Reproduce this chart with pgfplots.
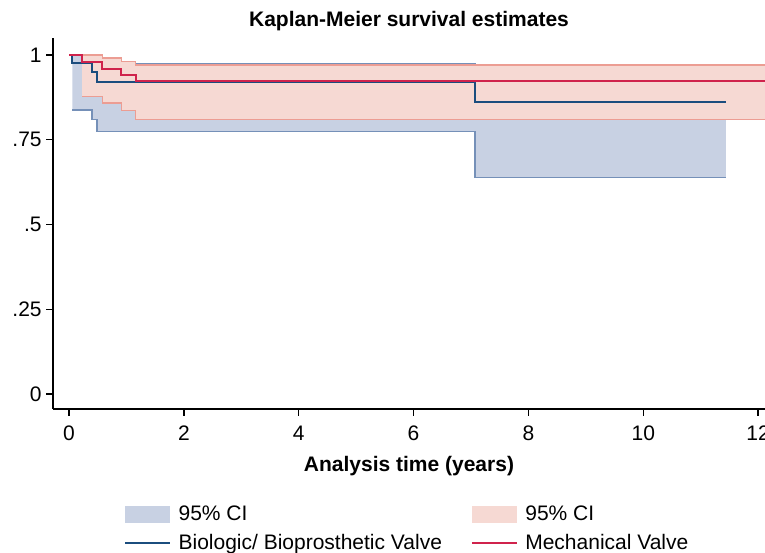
\documentclass[border=0pt]{standalone}
\usepackage{pgfplots}
\pgfplotsset{compat=1.18}
\usepackage{fontspec}
\setmainfont{Liberation Sans}
\definecolor{ciblue}{HTML}{C8D1E3}
\definecolor{ciblueedge}{HTML}{7590B8}
\definecolor{cipink}{HTML}{F6D9D3}
\definecolor{cipinkedge}{HTML}{EC9D93}
\definecolor{navyline}{HTML}{1B4D7E}
\definecolor{redline}{HTML}{D0234C}
\newcommand{\fs}{\fontsize{15.75}{18}\selectfont}
\begin{document}
\begin{tikzpicture}
\begin{axis}[
  scale only axis, width=534pt, height=278.25pt,
  xmin=-0.279, xmax=12.12, ymin=-0.044, ymax=1.05,
  axis lines=left,
  axis line style={line width=1.5pt, -},
  xtick={0,2,4,6,8,10,12},
  ytick={0,0.25,0.5,0.75,1},
  yticklabels={0,.25,.5,.75,1},
  tick align=outside, major tick length=5pt,
  tick style={line width=1pt, black},
  /pgf/number format/assume math mode=true,
  tick label style={font=\fs},
  xticklabel style={yshift=-4pt},
  title={Kaplan-Meier survival estimates},
  title style={at={(axis description cs:0.5,1)}, anchor=base, yshift=2.25pt, font=\bfseries\fs},
  xlabel={Analysis time (years)},
  xlabel style={at={(axis description cs:0.5,0)}, anchor=base, yshift=-47.25pt, font=\bfseries\fs},
  legend columns=2,
  legend style={at={(axis description cs:0.0997,0)}, anchor=north west, yshift=-72.5pt,
    draw=none, fill=none, inner xsep=0pt, inner ysep=0pt, font=\fs,
    row sep=8.6pt, cells={anchor=west},
    nodes={inner sep=0pt},
    /tikz/every odd column/.append style={column sep=5.5pt},
    /tikz/every even column/.append style={column sep=21.75pt}},
  legend image code/.code={\draw[#1] (0pt,0pt) -- (33.75pt,0pt);},
]
% blue CI band
\addplot[fill=ciblue, draw=none,
  legend image code/.code={\fill[ciblue] (0pt,-6.4pt) rectangle (33.75pt,6.4pt);}]
  coordinates {(0.06,1.0) (0.58,1.0) (0.58,0.991) (0.91,0.991) (0.91,0.981) (1.16,0.981)
    (1.16,0.974) (7.07,0.974) (7.07,0.955) (11.44,0.955)
    (11.44,0.639) (7.07,0.639) (7.07,0.774) (0.49,0.774) (0.49,0.810) (0.40,0.810)
    (0.40,0.838) (0.06,0.838)} -- cycle;
\addlegendentry{95\% CI}
\addplot[const plot, draw=ciblueedge, line width=1.1pt, forget plot]
  coordinates {(0.06,1.0) (0.58,0.991) (0.91,0.981) (1.16,0.974) (7.07,0.955) (11.44,0.955)};
\addplot[const plot, draw=ciblueedge, line width=1.1pt, forget plot]
  coordinates {(0.06,0.838) (0.40,0.810) (0.49,0.774) (7.07,0.639) (11.44,0.639)};
% red CI band
\addplot[fill=cipink, draw=none,
  legend image code/.code={\fill[cipink] (0pt,-6.4pt) rectangle (33.75pt,6.4pt);}]
  coordinates {(0.23,1.0) (0.58,1.0) (0.58,0.991) (0.91,0.991) (0.91,0.981) (1.16,0.981)
    (1.16,0.971) (12.12,0.971)
    (12.12,0.809) (1.16,0.809) (1.16,0.836) (0.91,0.836) (0.91,0.859) (0.58,0.859)
    (0.58,0.877) (0.23,0.877)} -- cycle;
\addlegendentry{95\% CI}
\addplot[const plot, draw=cipinkedge, line width=1.1pt, forget plot]
  coordinates {(0.23,1.0) (0.58,0.991) (0.91,0.981) (1.16,0.971) (12.12,0.971)};
\addplot[const plot, draw=cipinkedge, line width=1.1pt, forget plot]
  coordinates {(0.23,0.877) (0.58,0.859) (0.91,0.836) (1.16,0.809) (12.12,0.809)};
% KM curves
\addplot[const plot, draw=navyline, line width=1.5pt]
  coordinates {(0,1) (0.06,0.975) (0.40,0.950) (0.49,0.919) (7.07,0.860) (11.44,0.860)};
\addlegendentry{Biologic/ Bioprosthetic Valve}
\addplot[const plot, draw=redline, line width=1.5pt]
  coordinates {(0,1) (0.23,0.979) (0.58,0.960) (0.91,0.942) (1.16,0.922) (12.12,0.922)};
\addlegendentry{Mechanical Valve}
\end{axis}
\pgfresetboundingbox
\useasboundingbox (-39.75pt,-108pt) rectangle (534pt,306.75pt);
\end{tikzpicture}
\end{document}
